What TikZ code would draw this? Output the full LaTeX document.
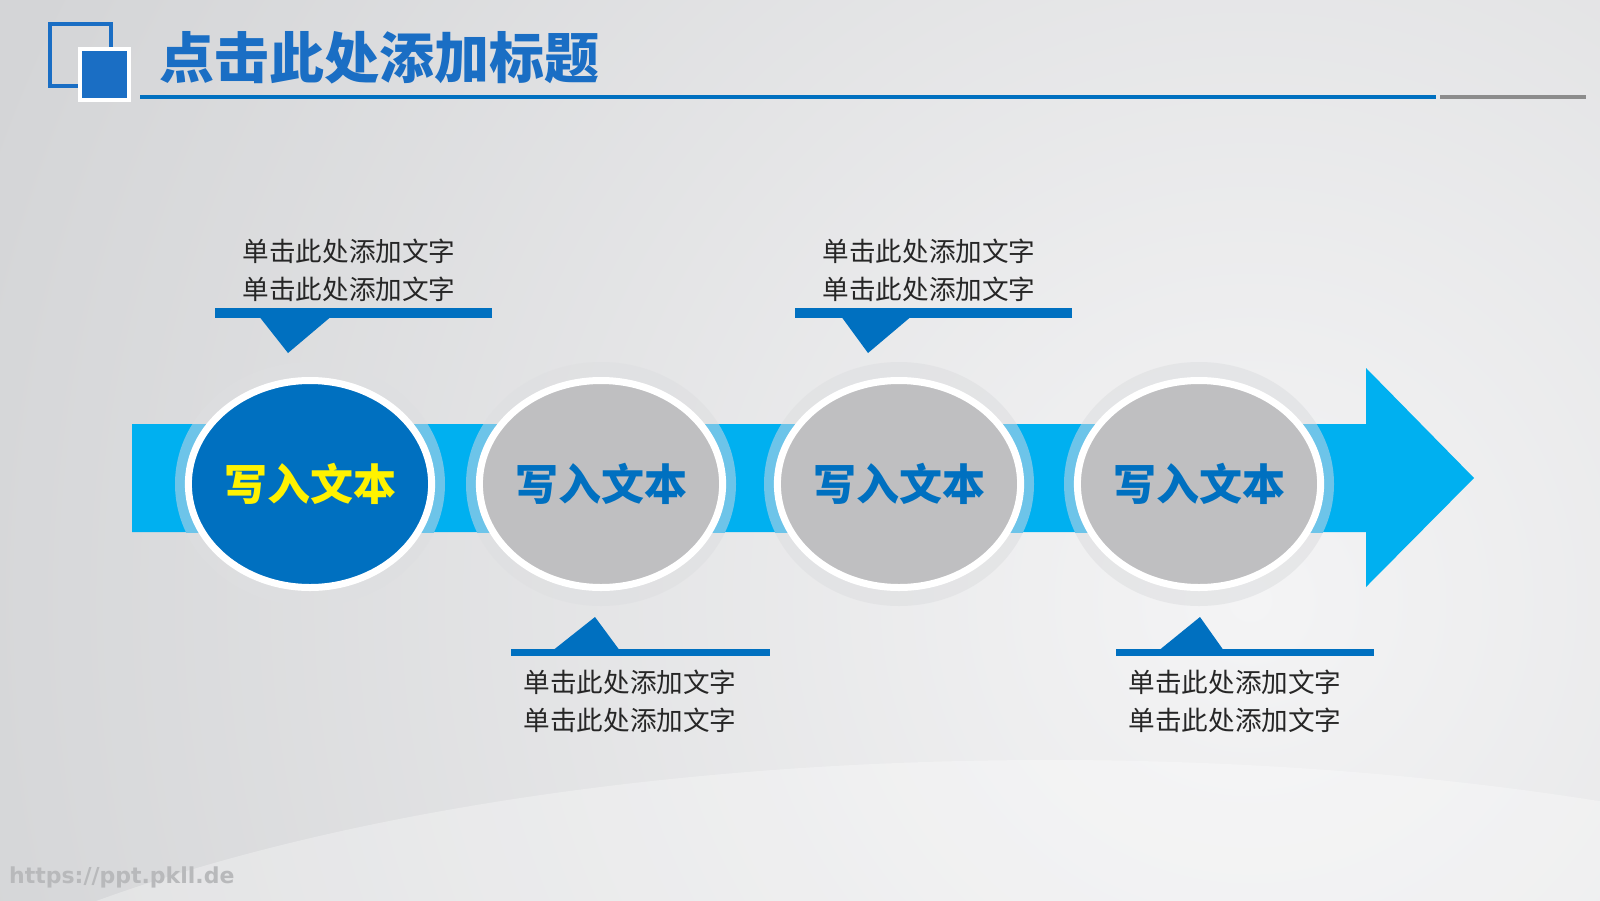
\documentclass[tikz,border=0pt]{standalone}
\usepackage{fontspec}
\setmainfont{Liberation Sans}
\newfontfamily\cjk{Noto Sans CJK SC}
\newfontfamily\wmfont{DejaVu Sans}
\usetikzlibrary{shapes.geometric}
\definecolor{bgc}{HTML}{D4D5D7}
\definecolor{glow}{HTML}{F4F4F5}
\definecolor{pblue}{HTML}{0070C0}
\definecolor{tblue}{HTML}{1A6EC4}
\definecolor{lblue}{HTML}{00B0F0}
\definecolor{rblue}{HTML}{6DC4E9}
\definecolor{cgray}{HTML}{BFBFC1}
\definecolor{hgray}{HTML}{DEDFE1}
\definecolor{tgray}{HTML}{8C8C8C}
\definecolor{wmc}{HTML}{B8B9BB}
\begin{document}
\begin{tikzpicture}[x=1pt,y=-1pt,
  disc/.style={ellipse, draw=white, line width=7pt, minimum width=231pt, minimum height=207pt, inner sep=0pt, font=\fontsize{43}{43}\cjk\bfseries\selectfont},
  note/.style={align=center, font=\fontsize{26.6}{38}\cjk\selectfont, text=black!85},
  halo/.style={x radius=135pt, y radius=122pt},
  callout/.style={fill=pblue}
  ]
\useasboundingbox (0,0) rectangle (1600,900);
% background
\fill[bgc] (0,0) rectangle (1600,900);
\begin{scope}
  \clip (0,0) rectangle (1600,900);
  \shade[inner color=glow, outer color=bgc] (1250,600) circle (1350pt);
  \fill[white, opacity=0.3] (1050,1200) ellipse [x radius=1300pt, y radius=440pt];
\end{scope}
% title
\draw[tblue, line width=4pt] (50,24) rectangle (111,86);
\fill[white] (78,47) rectangle (131,102);
\fill[tblue] (82,51) rectangle (127,98);
\node[font=\fontsize{55}{55}\cjk\bfseries\selectfont, text=tblue, inner sep=0pt] (title) at (379,58) {点击此处添加标题};
\draw[pblue, line width=3.3pt] (140,97) -- (1436,97);
\draw[tgray, line width=3.3pt] (1440,97) -- (1586,97);
% centres
\coordinate (h1) at (310,484);
\coordinate (h2) at (601,484);
\coordinate (h3) at (899,484);
\coordinate (h4) at (1199,484);
% grey halos
\foreach \c in {h1,h2,h3,h4}
  \fill[hgray, opacity=0.6] (\c) ellipse [halo];
% band arrow
\fill[lblue] (132,424) -- (1366,424) -- (1366,368) -- (1474,478) -- (1366,587) -- (1366,532) -- (132,532) -- cycle;
\begin{scope}
  \clip (132,424) rectangle (1366,532);
  \foreach \c in {h1,h2,h3,h4}
    \fill[rblue] (\c) ellipse [halo];
\end{scope}
% discs
\node[disc, fill=pblue, text=yellow] (c1) at (h1) {写入文本};
\node[disc, fill=cgray, text=pblue] (c2) at (h2) {写入文本};
\node[disc, fill=cgray, text=pblue] (c3) at (h3) {写入文本};
\node[disc, fill=cgray, text=pblue] (c4) at (h4) {写入文本};
% callouts
\fill[callout] (215,308) rectangle (492,318);
\fill[callout] (260,317.5) -- (330,317.5) -- (288,353) -- cycle;
\node[note] (t1) at (349,270) {单击此处添加文字\\单击此处添加文字};
\fill[callout] (795,308) rectangle (1072,318);
\fill[callout] (842,317.5) -- (910,317.5) -- (868,353) -- cycle;
\node[note] (t3) at (929,270) {单击此处添加文字\\单击此处添加文字};
\fill[callout] (511,649) rectangle (770,656);
\fill[callout] (554,649.5) -- (619,649.5) -- (595,617) -- cycle;
\node[note] (t2) at (630,701) {单击此处添加文字\\单击此处添加文字};
\fill[callout] (1116,649) rectangle (1374,656);
\fill[callout] (1160,649.5) -- (1223,649.5) -- (1200,617) -- cycle;
\node[note] (t4) at (1235,701) {单击此处添加文字\\单击此处添加文字};
% watermark
\node[font=\fontsize{22}{22}\wmfont\bfseries\selectfont, text=wmc, anchor=west, inner sep=0pt] (wmk) at (9,877) {https://ppt.pkll.de};
\end{tikzpicture}
\end{document}
